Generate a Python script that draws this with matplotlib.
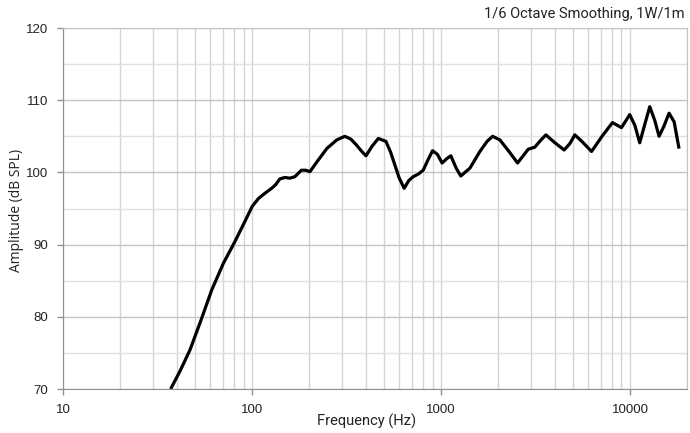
import matplotlib.pyplot as plt
from matplotlib.ticker import FixedLocator, NullFormatter

# frequency response (Hz, dB SPL)
freq = [37.0, 41.5, 46.8, 53.5, 61.0, 70.3, 80.9, 91.4, 100, 108, 116.6, 126.7,
        133, 140, 149, 158, 168, 182, 192, 202, 222, 248, 280, 309, 333, 356,
        380, 400, 430, 465, 510, 540, 569, 600, 637, 675, 711, 760, 803, 850,
        900, 955, 1011, 1070, 1125, 1200, 1270, 1420, 1603, 1750, 1871, 2046,
        2300, 2537, 2886, 3130, 3350, 3583, 4000, 4478, 4800, 5099, 5600, 6250,
        7100, 8067, 9000, 9950, 10600, 11240, 12000, 12700, 13500, 14230,
        15100, 16070, 17100, 18150]
spl = [70.0, 72.5, 75.4, 79.5, 83.7, 87.4, 90.4, 93.2, 95.3, 96.4, 97.1, 97.8,
       98.3, 99.1, 99.3, 99.2, 99.4, 100.3, 100.3, 100.1, 101.6, 103.3, 104.5,
       105.0, 104.6, 103.8, 102.9, 102.3, 103.6, 104.7, 104.3, 102.8, 101.0,
       99.2, 97.8, 98.9, 99.4, 99.8, 100.3, 101.7, 103.0, 102.5, 101.3, 101.9,
       102.3, 100.6, 99.5, 100.6, 102.9, 104.3, 105.0, 104.5, 102.8, 101.3,
       103.2, 103.5, 104.4, 105.2, 104.1, 103.1, 104.0, 105.2, 104.2, 102.9,
       105.0, 106.9, 106.2, 108.0, 106.5, 104.1, 106.8, 109.1, 107.2, 105.0,
       106.4, 108.2, 107.0, 103.3]

x_ticks = [10, 100, 1000, 10000]
x_labels = ["10", "100", "1000", "10000"]
y_ticks = [70, 80, 90, 100, 110, 120]
minor_x = [m * d for d in (10, 100, 1000) for m in range(2, 10)] + [20000]

fig = plt.figure(figsize=(6.9, 4.33), dpi=100)
ax = fig.add_axes([63.3 / 690, 1 - 389 / 433, (687 - 63.3) / 690, (389 - 28) / 433])

ax.set_xscale("log")
ax.set_xlim(10, 20000)
ax.set_ylim(70, 120)

# grid
for f in x_ticks + minor_x:
    ax.axvline(f, color="#d4d4d4", lw=1.0, zorder=1)
for v in range(75, 120, 10):
    ax.axhline(v, color="#e0e0e0", lw=1.0, zorder=1)
for v in y_ticks:
    ax.axhline(v, color="#c4c4c4", lw=1.0, zorder=1)

ax.plot(freq, spl, color="black", lw=2.3, solid_capstyle="butt",
        solid_joinstyle="round", zorder=3)

ax.xaxis.set_major_locator(FixedLocator(x_ticks))
ax.set_xticklabels(x_labels)
ax.xaxis.set_minor_locator(FixedLocator([]))
ax.xaxis.set_minor_formatter(NullFormatter())
ax.set_yticks(y_ticks)

for s in ax.spines.values():
    s.set_color("#c4c4c4")
ax.spines["left"].set_color("#909090")
ax.spines["bottom"].set_color("#909090")
ax.tick_params(axis="both", colors="#909090", length=4, width=1,
               labelcolor="#222222", labelsize=9.5, pad=7)
for lab in ax.get_xticklabels() + ax.get_yticklabels():
    lab.set_family("Liberation Sans")

# axis titles placed by hand, as in the reference
fig.text(367 / 690, 1 - 421 / 433, "Frequency (Hz)", family="Roboto",
         fontsize=10.5, color="#222222", ha="center", va="center")
fig.text(17 / 690, 1 - 210 / 433, "Amplitude (dB SPL)", family="Open Sans",
         fontsize=10, color="#222222", ha="center", va="center", rotation=90)
fig.text(685 / 690, 1 - 14 / 433, "1/6 Octave Smoothing, 1W/1m", family="Roboto",
         fontsize=10.5, color="#222222", ha="right", va="center")

fig.savefig("out.png", dpi=100)
